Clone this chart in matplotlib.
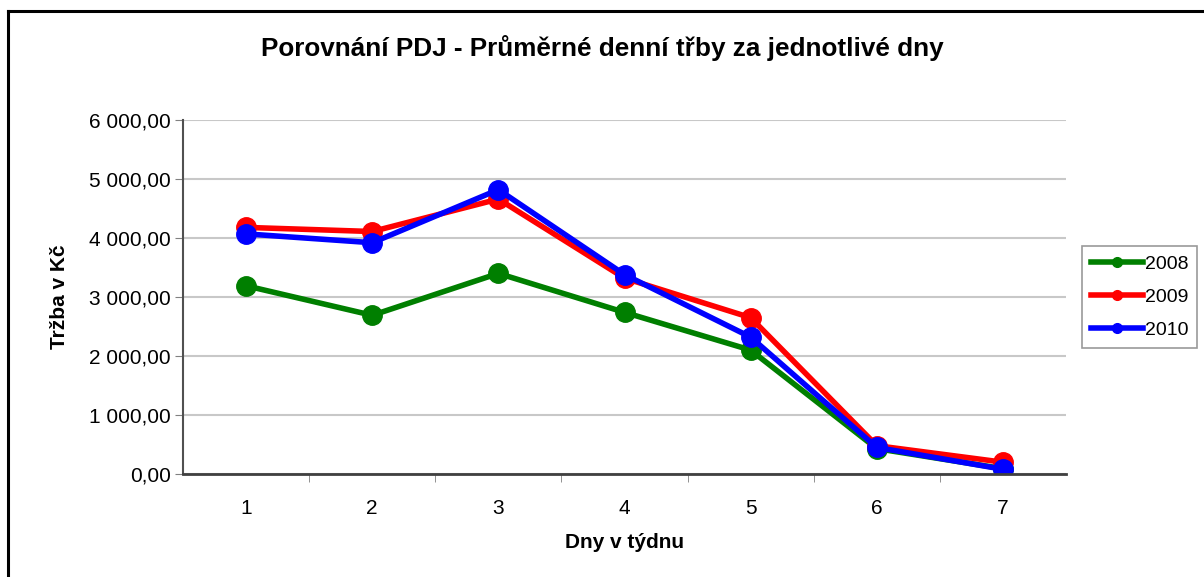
import matplotlib.pyplot as plt
from matplotlib.lines import Line2D
from matplotlib.ticker import FuncFormatter

plt.rcParams['font.family'] = ['Liberation Sans', 'DejaVu Sans']

days = [1, 2, 3, 4, 5, 6, 7]
y2008 = [3190, 2690, 3400, 2740, 2100, 430, 90]
y2009 = [4180, 4110, 4660, 3320, 2650, 480, 200]
y2010 = [4070, 3920, 4820, 3380, 2320, 450, 80]

series = [('2008', y2008, '#007f00'), ('2009', y2009, '#ff0000'), ('2010', y2010, '#0000ff')]

fig = plt.figure(figsize=(12.04, 5.77), dpi=100)
ax = fig.add_axes([0.152, 0.1785, 0.7334, 0.6135])

# chart border (only top and left edges are visible in the source)
fig.add_artist(Line2D([0.0068, 1.0], [0.981, 0.981], transform=fig.transFigure,
                      color='black', linewidth=2.2))
fig.add_artist(Line2D([0.0068, 0.0068], [0.981, 0.0], transform=fig.transFigure,
                      color='black', linewidth=2.2))

for name, vals, col in series:
    ax.plot(days, vals, color=col, linewidth=4, marker='o', markersize=14,
            label=name, solid_joinstyle='round')

ax.set_xlim(0.5, 7.5)
ax.set_ylim(0, 6000)
ax.set_yticks(range(0, 6001, 1000))
ax.yaxis.set_major_formatter(FuncFormatter(lambda v, p: '{:,.2f}'.format(v).replace(',', ' ').replace('.', ',')))
ax.set_xticks(days)
ax.set_xticks([1.5, 2.5, 3.5, 4.5, 5.5, 6.5], minor=True)
ax.tick_params(axis='x', which='major', length=0, pad=18, labelsize=15)
ax.tick_params(axis='x', which='minor', length=6, color='#808080')
ax.tick_params(axis='y', length=6, color='#808080', labelsize=15, pad=3)

ax.grid(axis='y', color='#c8c8c8', linewidth=1.5)
ax.set_axisbelow(True)
for s in ['top', 'right']:
    ax.spines[s].set_visible(False)
ax.spines['left'].set_color('#505050')
ax.spines['left'].set_linewidth(1.5)
ax.spines['bottom'].set_color('#404040')
ax.spines['bottom'].set_linewidth(2)

ax.set_xlabel('Dny v týdnu', fontsize=15, fontweight='bold', labelpad=11)
ax.set_ylabel('Tržba v Kč', fontsize=15, fontweight='bold', labelpad=14)
fig.text(0.5, 0.917, 'Porovnání PDJ - Průměrné denní třby za jednotlivé dny', fontsize=18.8,
         fontweight='bold', ha='center', va='center')

leg = ax.legend(loc='center left', bbox_to_anchor=(1.018, 0.5), fontsize=14,
                frameon=True, fancybox=False, edgecolor='#808080', handlelength=2.7,
                handletextpad=0.1, markerscale=0.5, labelspacing=0.8, borderpad=0.45,
                borderaxespad=0)
leg.get_frame().set_linewidth(1.2)

plt.savefig('out.png', dpi=100)
